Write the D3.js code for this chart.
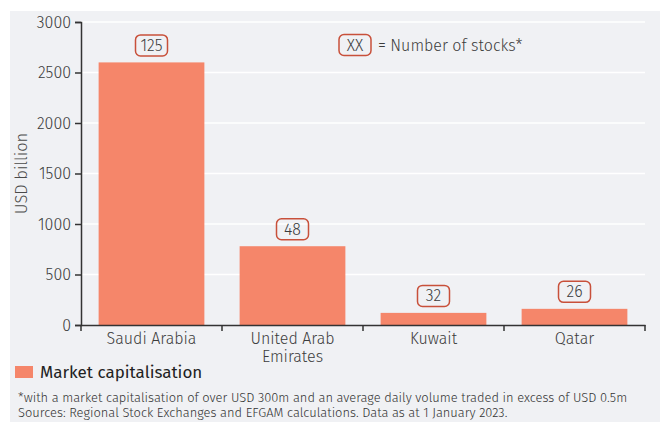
<!DOCTYPE html>
<html>
<head>
<meta charset="utf-8">
<script src="https://cdn.jsdelivr.net/npm/d3@7"></script>
<style>
  body { margin: 0; background: #fff; }
  svg { display: block; font-family: "Fira Sans", Roboto, sans-serif; font-weight: 300; }
</style>
</head>
<body>
<svg id="chart" width="660" height="422"></svg>
<script>
var countries = ["Saudi Arabia", "United Arab Emirates", "Kuwait", "Qatar"];
var marketCap = [2600, 780, 120, 160];
var stockCounts = [125, 48, 32, 26];
var yTicks = [0, 500, 1000, 1500, 2000, 2500, 3000];

var svg = d3.select("#chart");
var margin = { left: 81, right: 15, top: 22, bottom: 97 };
var width = 660, height = 422;
var font = '"Fira Sans", Roboto, sans-serif';
var textColor = "#3c3c3c";

svg.append("rect")
  .attr("x", 10).attr("y", 11)
  .attr("width", 650).attr("height", 411)
  .style("fill", "#f0f1f4");

var x = d3.scaleBand()
  .domain(countries)
  .range([margin.left, width - margin.right])
  .paddingInner(0.25)
  .paddingOuter(0.125);

var y = d3.scaleLinear()
  .domain([0, 3000])
  .range([height - margin.bottom, margin.top]);

// gridlines
svg.append("g")
  .selectAll("line")
  .data(yTicks.slice(1))
  .join("line")
  .attr("x1", margin.left).attr("x2", width - margin.right)
  .attr("y1", d => y(d)).attr("y2", d => y(d))
  .style("stroke", "#fff")
  .style("stroke-width", 1.5);

// bars
svg.append("g")
  .selectAll("rect")
  .data(countries)
  .join("rect")
  .attr("x", d => x(d))
  .attr("width", x.bandwidth())
  .attr("y", (d, i) => y(marketCap[i]))
  .attr("height", (d, i) => y(0) - y(marketCap[i]))
  .style("fill", "#f5866a");

// y axis
var yAxis = svg.append("g")
  .attr("transform", `translate(${margin.left},0)`)
  .call(d3.axisLeft(y).tickValues(yTicks).tickFormat(d3.format("d")).tickSize(6).tickPadding(4))
  .attr("font-family", font);
yAxis.select(".domain").style("stroke", "#333").style("stroke-width", 1.5);
yAxis.selectAll(".tick line").style("stroke", "#333").style("stroke-width", 1.5);
yAxis.selectAll("text").style("font-size", "16px").style("fill", textColor);

// x axis
var xAxis = svg.append("g")
  .attr("transform", `translate(0,${y(0)})`)
  .call(d3.axisBottom(x).tickSize(0).tickPadding(8))
  .attr("font-family", font);
xAxis.select(".domain").style("stroke", "#333").style("stroke-width", 1.5);
xAxis.selectAll("text").style("font-size", "16px").style("fill", textColor);
xAxis.selectAll(".tick text").each(function(d) {
  if (d === "United Arab Emirates") {
    var t = d3.select(this).text(null);
    t.append("tspan").attr("x", 0).attr("dy", "0.71em").text("United Arab");
    t.append("tspan").attr("x", 0).attr("dy", "1.08em").text("Emirates");
  }
});
// boundary ticks between categories
var step = x.step();
var bounds = d3.range(countries.length + 1).map(i => margin.left + i * step);
svg.append("g")
  .selectAll("line")
  .data(bounds)
  .join("line")
  .attr("x1", d => d).attr("x2", d => d)
  .attr("y1", y(0)).attr("y2", y(0) + 6)
  .style("stroke", "#333")
  .style("stroke-width", 1.5);

// y axis title
svg.append("text")
  .attr("transform", `translate(27,${(y(0) + y(3000)) / 2}) rotate(-90)`)
  .style("text-anchor", "middle")
  .style("font-size", "16.5px")
  .style("fill", "#4a4a4a")
  .text("USD billion");

// stock count boxes
function drawBadge(g, cx, cy, label) {
  var t = g.append("text")
    .attr("x", cx).attr("y", cy)
    .attr("dy", "0.35em")
    .style("text-anchor", "middle")
    .style("font-size", "16px")
    .style("fill", textColor)
    .text(label);
  var w = Math.max(t.node().getBBox().width + 9, 32);
  g.insert("rect", "text")
    .attr("x", cx - w / 2).attr("y", cy - 10.5)
    .attr("width", w).attr("height", 21)
    .attr("rx", 5)
    .style("fill", "none")
    .style("stroke", "#c8503a")
    .style("stroke-width", 1.5);
}

countries.forEach(function(c, i) {
  var g = svg.append("g");
  drawBadge(g, x(c) + x.bandwidth() / 2, y(marketCap[i]) - 17, stockCounts[i]);
});

// key in top right
var key = svg.append("g");
drawBadge(key, 355, 45, "XX");
key.append("text")
  .attr("x", 378).attr("y", 45).attr("dy", "0.35em")
  .style("font-size", "16px")
  .style("fill", textColor)
  .text("= Number of stocks*");

// legend
svg.append("rect")
  .attr("x", 15).attr("y", 366)
  .attr("width", 18).attr("height", 12)
  .style("fill", "#f5866a");
svg.append("text")
  .attr("x", 40).attr("y", 372).attr("dy", "0.35em")
  .style("font-size", "17px")
  .style("font-weight", 400)
  .style("fill", "#222")
  .text("Market capitalisation");

// footnotes
var notes = [
  "*with a market capitalisation of over USD 300m and an average daily volume traded in excess of USD 0.5m",
  "Sources: Regional Stock Exchanges and EFGAM calculations. Data as at 1 January 2023."
];
svg.append("g")
  .selectAll("text")
  .data(notes)
  .join("text")
  .attr("x", 18)
  .attr("y", (d, i) => 402 + i * 15)
  .style("font-size", "12.9px")
  .style("fill", "#333")
  .text(d => d);
</script>
</body>
</html>
